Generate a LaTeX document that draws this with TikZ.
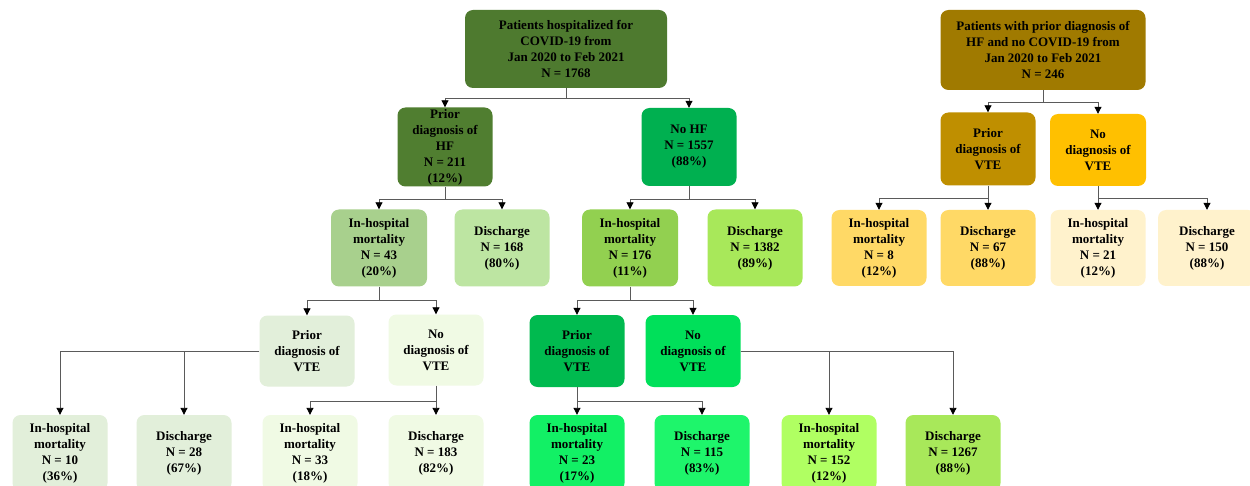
\documentclass[tikz,border=0pt]{standalone}
\usepackage{fontspec}
\setmainfont{Liberation Serif}
\usetikzlibrary{arrows.meta}
\definecolor{cRoot}{HTML}{4E7A2F}
\definecolor{cHF}{HTML}{507E30}
\definecolor{cNoHF}{HTML}{00B050}
\definecolor{cIHa}{HTML}{A8D08D}
\definecolor{cDa}{HTML}{BDE5A2}
\definecolor{cIHb}{HTML}{92D050}
\definecolor{cDb}{HTML}{A8E85A}
\definecolor{cPVl}{HTML}{E2EFDA}
\definecolor{cNVl}{HTML}{F0FAE4}
\definecolor{cPVg}{HTML}{00BA4F}
\definecolor{cNVg}{HTML}{00E05A}
\definecolor{cIHg}{HTML}{12F065}
\definecolor{cDg}{HTML}{1EF56B}
\definecolor{cIHn}{HTML}{B0FF62}
\definecolor{cDn}{HTML}{A8E85A}
\definecolor{cRootR}{HTML}{A07A00}
\definecolor{cPVr}{HTML}{BF8F00}
\definecolor{cNVr}{HTML}{FFC000}
\definecolor{cLevA}{HTML}{FFD966}
\definecolor{cLevB}{HTML}{FFF2CC}
\definecolor{cLine}{HTML}{5A5A5A}
\tikzset{
  box/.style={draw=none, rounded corners=8pt, align=center, inner sep=0pt,
    font=\fontsize{13}{16}\selectfont\bfseries, text=black},
  conn/.style={draw=cLine, line width=0.9pt},
  arr/.style={conn, -{Triangle[length=7pt,width=7pt,color=black]}}
}
\begin{document}
\begin{tikzpicture}[x=1pt,y=-1pt]
\useasboundingbox[fill=white] (0,0) rectangle (1250,486);
% left tree
\node[box, fill=cRoot, minimum width=202pt, minimum height=78pt] (root) at (566,49) {Patients hospitalized for\\COVID-19 from\\Jan 2020 to Feb 2021\\N = 1768};
\node[box, fill=cHF, minimum width=95pt, minimum height=79pt] (hf) at (445,147) {Prior\\diagnosis of\\HF\\N = 211\\(12\%)};
\node[box, fill=cNoHF, minimum width=95pt, minimum height=78pt] (nohf) at (689,147) {No HF\\N = 1557\\(88\%)};
\node[box, fill=cIHa, minimum width=96pt, minimum height=77pt] (ih43) at (379,248) {In-hospital\\mortality\\N = 43\\(20\%)};
\node[box, fill=cDa, minimum width=95pt, minimum height=77pt] (d168) at (502,248) {Discharge\\N = 168\\(80\%)};
\node[box, fill=cIHb, minimum width=96pt, minimum height=77pt] (ih176) at (630,248) {In-hospital\\mortality\\N = 176\\(11\%)};
\node[box, fill=cDb, minimum width=95pt, minimum height=77pt] (d1382) at (755,248) {Discharge\\N = 1382\\(89\%)};
\node[box, fill=cPVl, minimum width=95pt, minimum height=71pt] (pvl) at (307,351) {Prior\\diagnosis of\\VTE};
\node[box, fill=cNVl, minimum width=95pt, minimum height=71pt] (nvl) at (436,350) {No\\diagnosis of\\VTE};
\node[box, fill=cPVg, minimum width=95pt, minimum height=72pt] (pvg) at (577,351) {Prior\\diagnosis of\\VTE};
\node[box, fill=cNVg, minimum width=95pt, minimum height=72pt] (nvg) at (693,351) {No\\diagnosis of\\VTE};
\node[box, fill=cPVl, minimum width=95pt, minimum height=76pt] (ih10) at (60,453) {In-hospital\\mortality\\N = 10\\(36\%)};
\node[box, fill=cPVl, minimum width=95pt, minimum height=76pt] (d28) at (184,453) {Discharge\\N = 28\\(67\%)};
\node[box, fill=cNVl, minimum width=95pt, minimum height=76pt] (ih33) at (310,453) {In-hospital\\mortality\\N = 33\\(18\%)};
\node[box, fill=cNVl, minimum width=95pt, minimum height=76pt] (d183) at (436,453) {Discharge\\N = 183\\(82\%)};
\node[box, fill=cIHg, minimum width=95pt, minimum height=76pt] (ih23) at (577,453) {In-hospital\\mortality\\N = 23\\(17\%)};
\node[box, fill=cDg, minimum width=95pt, minimum height=76pt] (d115) at (702,453) {Discharge\\N = 115\\(83\%)};
\node[box, fill=cIHn, minimum width=95pt, minimum height=76pt] (ih152) at (829,453) {In-hospital\\mortality\\N = 152\\(12\%)};
\node[box, fill=cDn, minimum width=95pt, minimum height=76pt] (d1267) at (953,453) {Discharge\\N = 1267\\(88\%)};
% right tree
\node[box, fill=cRootR, minimum width=205pt, minimum height=80pt] (rootr) at (1043,50) {Patients with prior diagnosis of\\HF and no COVID-19 from\\Jan 2020 to Feb 2021\\N = 246};
\node[box, fill=cPVr, minimum width=95pt, minimum height=73pt] (pvr) at (988,149) {Prior\\diagnosis of\\VTE};
\node[box, fill=cNVr, minimum width=96pt, minimum height=72pt] (nvr) at (1098,150) {No\\diagnosis of\\VTE};
\node[box, fill=cLevA, minimum width=95pt, minimum height=76pt] (ih8) at (879,248) {In-hospital\\mortality\\N = 8\\(12\%)};
\node[box, fill=cLevA, minimum width=95pt, minimum height=76pt] (d67) at (988,248) {Discharge\\N = 67\\(88\%)};
\node[box, fill=cLevB, minimum width=95pt, minimum height=76pt] (ih21) at (1098,248) {In-hospital\\mortality\\N = 21\\(12\%)};
\node[box, fill=cLevB, minimum width=98pt, minimum height=76pt] (d150) at (1207,248) {Discharge\\N = 150\\(88\%)};
% junctions
\coordinate (j1) at (566,98);
\coordinate (j2) at (445,199);
\coordinate (j3) at (689,199);
\coordinate (j4) at (379,300);
\coordinate (j5) at (630,300);
\coordinate (j6) at (436,401);
\coordinate (j7) at (577,401);
\coordinate (j8) at (1043,102);
\coordinate (j9) at (988,198);
\coordinate (j10) at (1098,198);
% connectors
\draw[conn] (root.south) -- (j1);
\draw[arr] (j1) -| (hf.north);
\draw[arr] (j1) -| (nohf.north);
\draw[conn] (hf.south) -- (j2);
\draw[arr] (j2) -| (ih43.north);
\draw[arr] (j2) -| (d168.north);
\draw[conn] (nohf.south) -- (j3);
\draw[arr] (j3) -| (ih176.north);
\draw[arr] (j3) -| (d1382.north);
\draw[conn] (ih43.south) -- (j4);
\draw[arr] (j4) -| (pvl.north);
\draw[arr] (j4) -| (nvl.north);
\draw[conn] (ih176.south) -- (j5);
\draw[arr] (j5) -| (pvg.north);
\draw[arr] (j5) -| (nvg.north);
\draw[arr] (pvl.west) -| (ih10.north);
\draw[arr] (pvl.west) -| (d28.north);
\draw[conn] (nvl.south) -- (j6);
\draw[arr] (j6) -| (ih33.north);
\draw[arr] (j6) -| (d183.north);
\draw[conn] (pvg.south) -- (j7);
\draw[arr] (j7) -| (ih23.north);
\draw[arr] (j7) -| (d115.north);
\draw[arr] (nvg.east) -| (ih152.north);
\draw[arr] (nvg.east) -| (d1267.north);
\draw[conn] (rootr.south) -- (j8);
\draw[arr] (j8) -| (pvr.north);
\draw[arr] (j8) -| (nvr.north);
\draw[conn] (pvr.south) -- (j9);
\draw[arr] (j9) -| (ih8.north);
\draw[arr] (j9) -| (d67.north);
\draw[conn] (nvr.south) -- (j10);
\draw[arr] (j10) -| (ih21.north);
\draw[arr] (j10) -| (d150.north);
\end{tikzpicture}
\end{document}
